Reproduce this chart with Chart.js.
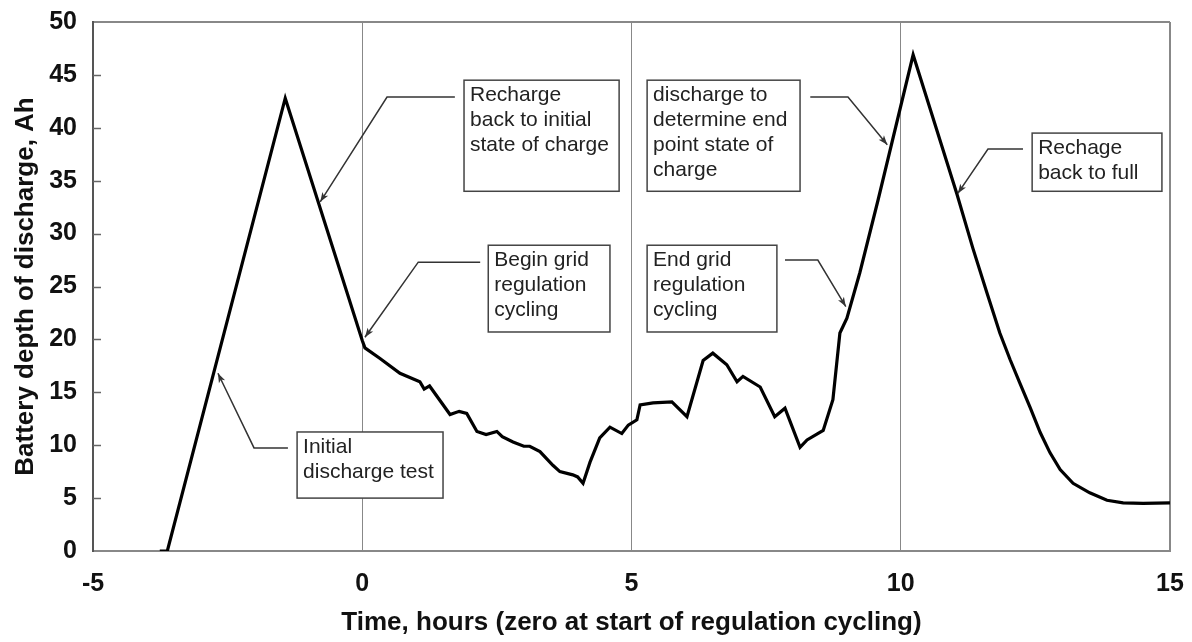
<!DOCTYPE html>
<html>
<head>
<meta charset="utf-8">
<script src="https://cdn.jsdelivr.net/npm/chart.js@4.4.1/dist/chart.umd.min.js"></script>
<style>
  html, body { margin: 0; padding: 0; background: #fff; }
  canvas { display: block; }
</style>
</head>
<body>
<canvas id="dodChart" width="1192" height="642"></canvas>
<script>
// Time since start of regulation cycling (h) and depth of discharge (Ah)
const hours = [
    -3.76, -3.62, -1.43, 0.0, 0.05, 0.33, 0.70, 1.07, 1.15, 1.25,
    1.63, 1.80, 1.94, 2.13, 2.30, 2.50, 2.60, 2.80, 3.00, 3.11,
    3.30, 3.54, 3.67, 3.91, 4.00, 4.10, 4.23, 4.41, 4.60, 4.82,
    4.94, 5.10, 5.16, 5.40, 5.75, 6.03, 6.33, 6.51, 6.77, 6.96,
    7.07, 7.39, 7.66, 7.85, 8.13, 8.26, 8.56, 8.74, 8.87, 9.00,
    9.24, 9.58, 10.23, 11.04, 11.34, 11.60, 11.84, 12.03, 12.21, 12.40,
    12.59, 12.77, 12.96, 13.20, 13.51, 13.83, 14.13, 14.50, 15.00
];
const depthAh = [
    0.0, 0.0, 42.8, 19.9, 19.2, 18.2, 16.8, 16.0, 15.3, 15.6,
    12.9, 13.2, 13.0, 11.3, 11.0, 11.3, 10.8, 10.3, 9.9, 9.9,
    9.4, 8.1, 7.5, 7.2, 7.0, 6.4, 8.4, 10.7, 11.7, 11.1,
    11.9, 12.4, 13.8, 14.0, 14.1, 12.7, 18.0, 18.7, 17.6, 16.0,
    16.5, 15.5, 12.7, 13.5, 9.8, 10.5, 11.4, 14.3, 20.6, 22.0,
    26.3, 33.2, 46.9, 33.8, 28.6, 24.4, 20.6, 18.1, 15.9, 13.6,
    11.2, 9.3, 7.7, 6.4, 5.5, 4.8, 4.55, 4.5, 4.55
];

const xMin = -5, xMax = 15, xStep = 5;
const yMin = 0, yMax = 50, yStep = 5;
const markerHours = [0, 5, 10];

// callouts: text lines, box corners and leader (start, elbow, tip) in data units
const notes = [
    { lines: ['Recharge', 'back to initial', 'state of charge'],
      box: [1.89, 44.5, 4.77, 34.0], leader: [[1.72, 42.9], [0.46, 42.9], [-0.78, 33.0]] },
    { lines: ['Begin grid', 'regulation', 'cycling'],
      box: [2.34, 28.9, 4.60, 20.7], leader: [[2.19, 27.3], [1.04, 27.3], [0.05, 20.2]] },
    { lines: ['Initial', 'discharge test'],
      box: [-1.21, 11.25, 1.50, 5.0], leader: [[-1.38, 9.74], [-2.01, 9.74], [-2.68, 16.8]] },
    { lines: ['discharge to', 'determine end', 'point state of', 'charge'],
      box: [5.29, 44.5, 8.13, 34.0], leader: [[8.32, 42.9], [9.02, 42.9], [9.75, 38.4]] },
    { lines: ['End grid', 'regulation', 'cycling'],
      box: [5.29, 28.9, 7.70, 20.7], leader: [[7.85, 27.5], [8.46, 27.5], [8.98, 23.1]] },
    { lines: ['Rechage', 'back to full'],
      box: [12.44, 39.5, 14.85, 34.0], leader: [[12.27, 38.0], [11.62, 38.0], [11.06, 33.8]] }
];

const FONT = '"Liberation Sans", Arial, Helvetica, sans-serif';

// short tick marks inside the left axis
const innerTicks = {
    id: 'innerTicks',
    afterDraw(chart) {
        const { ctx, chartArea, scales } = chart;
        ctx.save();
        ctx.strokeStyle = '#666';
        ctx.lineWidth = 1.5;
        scales.y.ticks.forEach(t => {
            if (t.value === yMin || t.value === yMax) return;
            const py = Math.round(scales.y.getPixelForValue(t.value)) + 0.5;
            ctx.beginPath();
            ctx.moveTo(chartArea.left, py);
            ctx.lineTo(chartArea.left + 8, py);
            ctx.stroke();
        });
        ctx.restore();
    }
};

// boxed labels with elbow arrows
const callouts = {
    id: 'callouts',
    afterDraw(chart) {
        const { ctx, scales: { x, y } } = chart;
        ctx.save();
        notes.forEach(n => {
            const bx1 = x.getPixelForValue(n.box[0]), by1 = y.getPixelForValue(n.box[1]);
            const bx2 = x.getPixelForValue(n.box[2]), by2 = y.getPixelForValue(n.box[3]);
            ctx.fillStyle = '#fff';
            ctx.fillRect(bx1, by1, bx2 - bx1, by2 - by1);
            ctx.strokeStyle = '#444';
            ctx.lineWidth = 1.5;
            ctx.strokeRect(bx1, by1, bx2 - bx1, by2 - by1);

            ctx.fillStyle = '#222';
            ctx.font = '21px ' + FONT;
            ctx.textBaseline = 'middle';
            ctx.textAlign = 'left';
            n.lines.forEach((line, i) => {
                ctx.fillText(line, bx1 + 6, by1 + 15 + i * 25);
            });

            const pts = n.leader.map(p => [x.getPixelForValue(p[0]), y.getPixelForValue(p[1])]);
            ctx.strokeStyle = '#333';
            ctx.lineWidth = 1.5;
            ctx.beginPath();
            ctx.moveTo(pts[0][0], pts[0][1]);
            ctx.lineTo(pts[1][0], pts[1][1]);
            ctx.lineTo(pts[2][0], pts[2][1]);
            ctx.stroke();

            // small arrow head
            const [ex, ey] = pts[2], [sx, sy] = pts[1];
            const ang = Math.atan2(ey - sy, ex - sx);
            ctx.fillStyle = '#333';
            ctx.beginPath();
            ctx.moveTo(ex, ey);
            ctx.lineTo(ex - 10 * Math.cos(ang + 0.35), ey - 10 * Math.sin(ang + 0.35));
            ctx.lineTo(ex - 7 * Math.cos(ang), ey - 7 * Math.sin(ang));
            ctx.lineTo(ex - 10 * Math.cos(ang - 0.35), ey - 10 * Math.sin(ang - 0.35));
            ctx.closePath();
            ctx.fill();
        });
        ctx.restore();
    }
};

new Chart(document.getElementById('dodChart'), {
    type: 'line',
    data: {
        datasets: [{
            data: hours.map((h, i) => ({ x: h, y: depthAh[i] })),
            borderColor: '#000',
            borderWidth: 3.2,
            pointRadius: 0,
            tension: 0,
            fill: false
        }]
    },
    options: {
        responsive: false,
        devicePixelRatio: 1,
        animation: false,
        layout: { padding: { top: 22, right: 22, left: 0, bottom: 0 } },
        plugins: {
            legend: { display: false },
            tooltip: { enabled: false }
        },
        scales: {
            x: {
                type: 'linear',
                min: xMin, max: xMax,
                afterFit: s => { s.height = 91; s.paddingLeft = 0; s.paddingRight = 0; },
                ticks: {
                    stepSize: xStep,
                    color: '#111',
                    padding: 18,
                    font: { family: FONT, size: 25, weight: 'bold' }
                },
                grid: {
                    drawTicks: false,
                    color: c => (markerHours.includes(c.tick.value) || c.tick.value === xMax) ? '#888' : 'rgba(0,0,0,0)',
                    lineWidth: c => c.tick.value === xMax ? 2 : 1
                },
                border: { color: '#888', width: 2 },
                title: {
                    display: true,
                    text: 'Time, hours (zero at start of regulation cycling)',
                    color: '#111',
                    padding: { bottom: 4 },
                    font: { family: FONT, size: 26, weight: 'bold' }
                }
            },
            y: {
                min: yMin, max: yMax,
                afterFit: s => { s.width = 93; s.paddingTop = 0; s.paddingBottom = 0; },
                ticks: {
                    stepSize: yStep,
                    color: '#111',
                    padding: 16,
                    font: { family: FONT, size: 25, weight: 'bold' }
                },
                grid: {
                    drawTicks: false,
                    color: c => c.tick.value === yMax ? '#888' : 'rgba(0,0,0,0)',
                    lineWidth: 2
                },
                border: { color: '#555', width: 2 },
                title: {
                    display: true,
                    text: 'Battery depth of discharge, Ah',
                    color: '#111',
                    padding: { top: 10 },
                    font: { family: FONT, size: 26, weight: 'bold' }
                }
            }
        }
    },
    plugins: [innerTicks, callouts]
});
</script>
</body>
</html>
